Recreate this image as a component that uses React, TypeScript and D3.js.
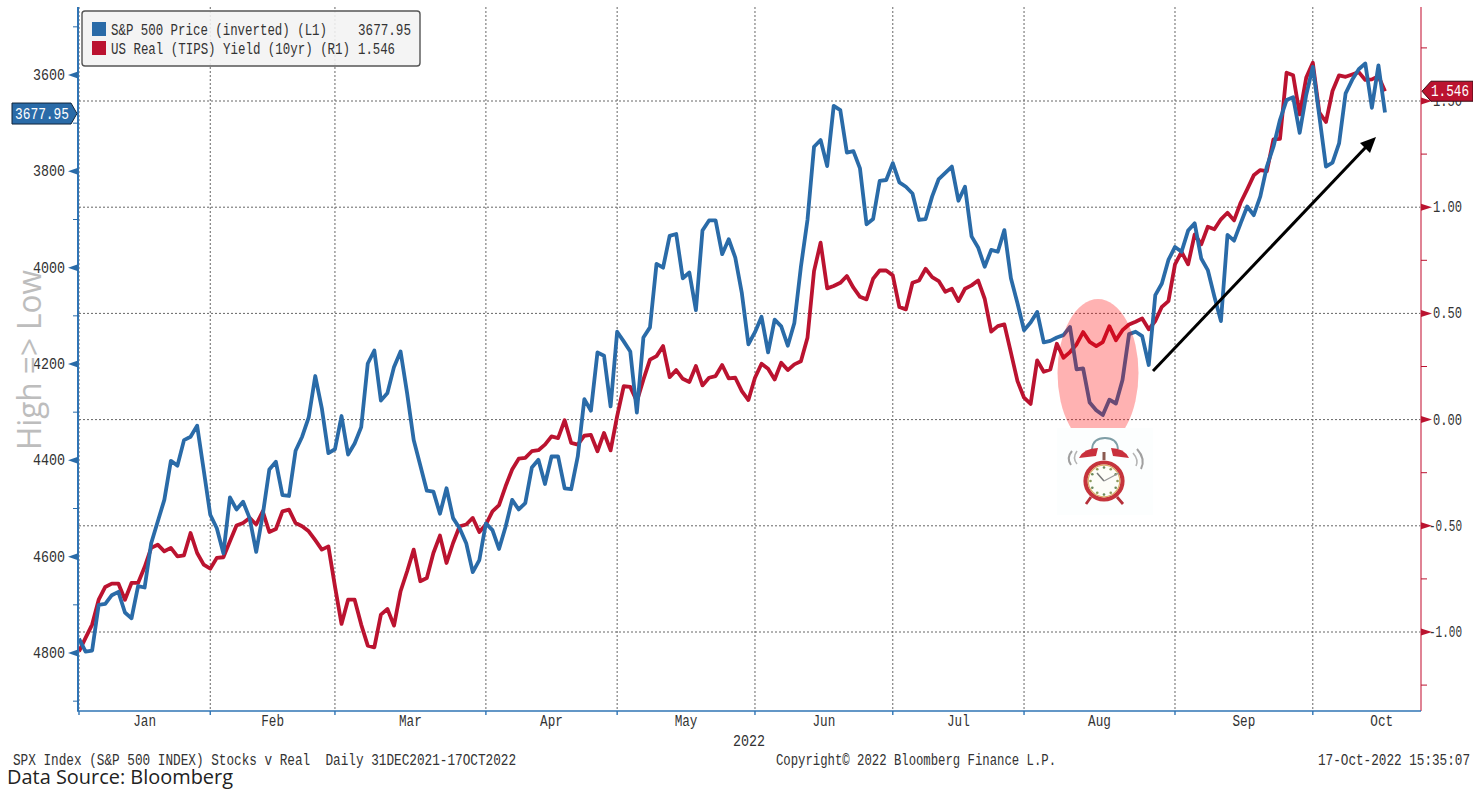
import React from "react";
import * as d3 from "d3";

const spxValues = [4770,4797,4795,4700,4698,4680,4673,4716,4728,4661,4664,4572,4527,4482,4401,4411,4358,4351,4328,4420,4513,4541,4593,4477,4502,4486,4520,4590,4513,4419,4403,4472,4474,4380,4351,4311,4225,4292,4385,4377,4308,4388,4365,4331,4199,4172,4276,4260,4206,4174,4261,4358,4410,4463,4465,4511,4458,4520,4541,4572,4632,4607,4531,4545,4584,4538,4482,4502,4489,4415,4399,4449,4392,4392,4458,4460,4392,4273,4297,4176,4183,4288,4133,4153,4174,4301,4145,4124,3992,4000,3934,3930,4022,4010,4088,3923,3902,3902,3972,3941,3979,4053,4159,4134,4102,4176,4108,4122,4162,4115,3998,3901,3749,3735,3789,3664,3673,3761,3758,3794,3910,3899,3820,3818,3783,3823,3832,3846,3901,3899,3852,3816,3803,3790,3861,3832,3935,3958,3998,3963,3967,3922,4022,4074,4130,4114,4092,4155,4152,4145,4140,4123,4211,4209,4280,4296,4306,4274,4282,4233,4138,4133,4142,4202,4057,4033,3984,3957,3967,3923,3908,3981,4005,4060,4111,3932,3944,3908,3873,3891,3852,3790,3749,3693,3652,3646,3720,3641,3583,3686,3790,3782,3742,3638,3610,3588,3576,3668,3580,3677.95];

const realYieldValues = [-1.091,-1.028,-0.965,-0.848,-0.788,-0.772,-0.772,-0.848,-0.769,-0.769,-0.694,-0.604,-0.589,-0.62,-0.604,-0.644,-0.639,-0.534,-0.628,-0.683,-0.702,-0.651,-0.648,-0.573,-0.499,-0.487,-0.463,-0.494,-0.432,-0.529,-0.515,-0.432,-0.424,-0.487,-0.502,-0.526,-0.568,-0.612,-0.597,-0.785,-0.962,-0.848,-0.848,-0.965,-1.064,-1.072,-0.918,-0.892,-0.97,-0.808,-0.714,-0.612,-0.761,-0.746,-0.628,-0.546,-0.675,-0.581,-0.502,-0.494,-0.463,-0.529,-0.494,-0.432,-0.403,-0.314,-0.235,-0.184,-0.18,-0.149,-0.144,-0.118,-0.079,-0.087,-0.003,-0.11,-0.118,-0.076,-0.072,-0.149,-0.063,-0.145,0.016,0.157,0.154,0.086,0.188,0.282,0.299,0.346,0.2,0.233,0.192,0.177,0.252,0.161,0.197,0.205,0.257,0.194,0.197,0.134,0.092,0.197,0.263,0.239,0.189,0.268,0.233,0.26,0.275,0.385,0.699,0.833,0.618,0.629,0.644,0.676,0.621,0.578,0.566,0.663,0.702,0.702,0.679,0.53,0.519,0.644,0.655,0.71,0.671,0.652,0.602,0.616,0.558,0.616,0.632,0.655,0.569,0.414,0.44,0.448,0.315,0.181,0.103,0.074,0.279,0.225,0.236,0.357,0.291,0.318,0.354,0.412,0.366,0.346,0.365,0.44,0.374,0.421,0.448,0.461,0.476,0.425,0.464,0.531,0.558,0.731,0.789,0.731,0.872,0.825,0.908,0.896,0.943,0.974,0.938,1.021,1.084,1.15,1.175,1.17,1.319,1.322,1.633,1.621,1.437,1.61,1.68,1.445,1.401,1.547,1.621,1.614,1.625,1.636,1.599,1.602,1.617,1.546];

const monthNames = ["Jan","Feb","Mar","Apr","May","Jun","Jul","Aug","Sep","Oct"];
const monthStartIdx = [0,20,39,62,82,103,124,144,167,188,209];
const leftMajor = [3600,3800,4000,4200,4400,4600,4800];
const leftMinor = [3500,3700,3900,4100,4300,4500,4700,4900];
const rightMajor = [1.5,1,0.5,0,-0.5,-1];
const rightMinor = [1.75,1.25,0.75,0.25,-0.25,-0.75,-1.25];

const BLUE = "#2a6ba8";
const RED = "#bb1330";
const L = 79, R = 1421, T = 7, B = 711;

const x = d3.scaleLinear().domain([0, 199]).range([79, 1385]);
const yL = d3.scaleLinear().domain([3600, 4800]).range([75, 653]);
const yR = d3.scaleLinear().domain([-1, 1.5]).range([632, 101]);

const MONO = "'Liberation Mono', 'DejaVu Sans Mono', monospace";

function T2({ s, px, py, len, anchor = "start", fill = "#333", size = 16 }: any) {
  return (
    <text x={px} y={py + 1} fontFamily={MONO} fontSize={size} fill={fill} textAnchor={anchor}
      textLength={len} lengthAdjust="spacingAndGlyphs" dominantBaseline="central"
      style={{ whiteSpace: "pre" }}>{s}</text>
  );
}

function Clock() {
  const cx = 1104, cy = 481;
  const angles = d3.range(12).map((k) => (k * Math.PI) / 6);
  return (
    <g>
      <rect x={1057} y={428} width={96} height={87} fill="#fcfefe" />
      <path d="M1092 449 Q1093 438 1105 438 Q1117 438 1118 449" fill="none" stroke="#7f9ea6" strokeWidth={1.8} />
      <path d="M1079 458 Q1084 448 1098 448 L1096 456 Z" fill="#c9303c" />
      <path d="M1129 458 Q1124 448 1111 448 L1113 456 Z" fill="#c9303c" />
      <rect x={1102.5} y={452} width={3} height={8} fill="#8a5a50" />
      <path d="M1072 451 Q1066 458 1071 465" fill="none" stroke="#a0a0a0" strokeWidth={2} />
      <path d="M1077 451 Q1072 458 1077 464" fill="none" stroke="#b5b5b5" strokeWidth={1.6} />
      <path d="M1137 449 Q1146 459 1141 469" fill="none" stroke="#a0a0a0" strokeWidth={2} />
      <path d="M1133 453 Q1139 460 1136 466" fill="none" stroke="#b5b5b5" strokeWidth={1.6} />
      <path d="M1091 497 L1086 504 M1117 497 L1123 504" stroke="#b5303a" strokeWidth={2.8} />
      <circle cx={cx} cy={cy} r={18.5} fill="#fdfdf8" stroke="#c5343c" strokeWidth={4.2} />
      <circle cx={cx} cy={cy} r={15.8} fill="none" stroke="#d9b06a" strokeWidth={1.2} />
      {angles.map((a, k) => (
        <circle key={k} cx={cx + 13.5 * Math.sin(a)} cy={cy - 13.5 * Math.cos(a)} r={1.3} fill={k % 2 ? "#8a9a5a" : "#6a8a5a"} />
      ))}
      <path d={`M${cx - 7} ${cy - 8} L${cx} ${cy}`} stroke="#777" strokeWidth={1.5} />
      <path d={`M${cx} ${cy} L${cx + 15} ${cy - 8}`} stroke="#999" strokeWidth={1.3} />
    </g>
  );
}

export default function App() {
  const blueLine = d3.line<number>().x((_, i) => x(i)).y((d) => yL(d));
  const redLine = d3.line<number>().x((_, i) => x(i)).y((d) => yR(d));
  const ticks = monthStartIdx.slice(0, -1);
  const lastYield = realYieldValues[realYieldValues.length - 1];
  const lastSpx = spxValues[spxValues.length - 1];
  const yTagL = yL(lastSpx) + 1;
  const yTagR = yR(lastYield);

  return (
    <svg width={1473} height={789} viewBox="0 0 1473 789"
      style={{ position: "absolute", left: 0, top: 0, background: "#fff" }}>
      {/* grid */}
      {rightMajor.map((v) => (
        <line key={v} x1={L} x2={R} y1={yR(v)} y2={yR(v)} stroke="#666" strokeWidth={1} strokeDasharray="2 2" />
      ))}
      {ticks.map((i) => (
        <line key={i} x1={x(i)} x2={x(i)} y1={T} y2={B} stroke="#666" strokeWidth={1} strokeDasharray="2 2" />
      ))}

      {/* series */}
      <path d={redLine(realYieldValues) as string} fill="none" stroke={RED} strokeWidth={3.8} strokeLinejoin="round" />
      <path d={blueLine(spxValues) as string} fill="none" stroke={BLUE} strokeWidth={3.8} strokeLinejoin="round" />

      {/* annotation ellipse */}
      <clipPath id="ellClip"><rect x={1050} y={290} width={100} height={138} /></clipPath>
      <ellipse cx={1098} cy={373} rx={40.5} ry={74} fill="#ff0000" fillOpacity={0.3} clipPath="url(#ellClip)" />
      <Clock />

      {/* arrow */}
      <line x1={1153} y1={371} x2={1366} y2={147} stroke="#000" strokeWidth={3} />
      <polygon points="1376,137 1360,143 1370,153" fill="#000" />

      {/* left axis */}
      <line x1={L - 1} x2={L - 1} y1={T} y2={B} stroke="#2f74b5" strokeWidth={2} />
      {leftMajor.map((v) => (
        <g key={v}>
          <polygon points={`${L - 1},${yL(v) - 3.5} ${L - 1},${yL(v) + 3.5} ${L - 11},${yL(v)}`} fill={BLUE} />
          <T2 s={String(v)} px={65} py={yL(v)} len={32} anchor="end" />
        </g>
      ))}
      {leftMinor.map((v) => (
        <line key={v} x1={L - 6} x2={L} y1={yL(v)} y2={yL(v)} stroke={BLUE} strokeWidth={1} />
      ))}

      {/* right axis */}
      <line x1={R} x2={R} y1={T} y2={B} stroke="#d9657a" strokeWidth={1.6} />
      {rightMajor.map((v) => (
        <g key={v}>
          <polygon points={`${R},${yR(v) - 3.5} ${R},${yR(v) + 3.5} ${R + 11},${yR(v)}`} fill={RED} />
          <T2 s={v.toFixed(2)} px={1462} py={yR(v)} len={v < 0 ? 33 : 29} anchor="end" />
        </g>
      ))}
      {rightMinor.map((v) => (
        <line key={v} x1={R} x2={R + 6} y1={yR(v)} y2={yR(v)} stroke={RED} strokeWidth={1} />
      ))}

      {/* bottom axis */}
      <line x1={L - 2} x2={R} y1={B} y2={B} stroke="#2f74b5" strokeWidth={1.6} />
      {ticks.map((i) => (
        <line key={i} x1={x(i)} x2={x(i)} y1={B} y2={B + 4} stroke="#2f74b5" strokeWidth={1.4} />
      ))}
      {monthNames.map((m, k) => (
        <T2 key={m} s={m} px={(x(monthStartIdx[k]) + x(monthStartIdx[k + 1])) / 2} py={721}
          len={m.length * 7.6} anchor="middle" />
      ))}
      <T2 s="2022" px={749} py={741} len={32} anchor="middle" />

      {/* value tags */}
      <polygon points={`12,${yTagL - 10.5} 71,${yTagL - 10.5} 77,${yTagL} 71,${yTagL + 10.5} 12,${yTagL + 10.5}`}
        fill={BLUE} stroke="#10243a" strokeWidth={1} />
      <T2 s="3677.95" px={15} py={yTagL} len={54} fill="#fff" />
      <polygon points={`1422,${yTagR} 1431,${yTagR - 10} 1473,${yTagR - 10} 1473,${yTagR + 10} 1431,${yTagR + 10}`}
        fill={RED} stroke="#3a0a12" strokeWidth={1} />
      <T2 s={lastYield.toFixed(3)} px={1431} py={yTagR} len={38} fill="#fff" />

      {/* legend */}
      <rect x={82} y={11} width={338} height={55} rx={3} fill="#f2f2f2" fillOpacity={0.88} stroke="#555" strokeWidth={1.4} />
      <rect x={92} y={22} width={14} height={14} fill={BLUE} />
      <rect x={92} y={41} width={14} height={14} fill={RED} />
      <T2 s="S&P 500 Price (inverted) (L1)" px={111} py={30} len={216} />
      <T2 s="3677.95" px={358} py={30} len={53} />
      <T2 s="US Real (TIPS) Yield (10yr) (R1)" px={111} py={49} len={239} />
      <T2 s="1.546" px={358} py={49} len={37} />

      {/* axis title */}
      <text transform="translate(41,360) rotate(-90)" textAnchor="middle" fontFamily="'Open Sans', sans-serif"
        fontSize={33} fill="#bdbdbd" textLength={180} lengthAdjust="spacingAndGlyphs">{"High => Low"}</text>

      {/* footer */}
      <T2 s="SPX Index (S&P 500 INDEX) Stocks v Real  Daily 31DEC2021-17OCT2022" px={13} py={760} len={503} />
      <T2 s="Copyright© 2022 Bloomberg Finance L.P." px={776} py={760} len={280} />
      <T2 s="17-Oct-2022 15:35:07" px={1318} py={760} len={152} />
      <text x={7} y={784} fontFamily="'Open Sans', sans-serif" fontSize={20} fill="#222"
        textLength={226} lengthAdjust="spacingAndGlyphs">Data Source: Bloomberg</text>
    </svg>
  );
}
